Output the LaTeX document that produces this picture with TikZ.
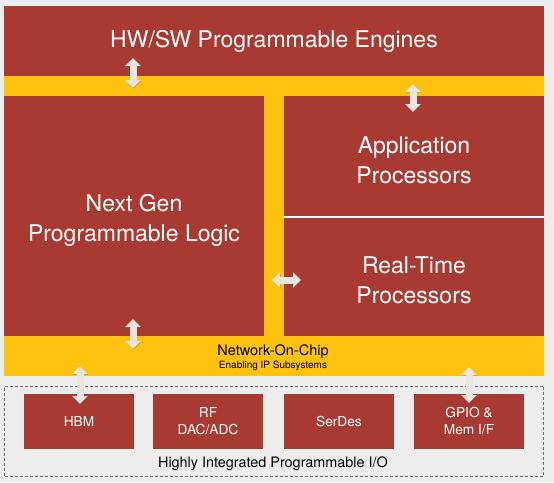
\documentclass[tikz,border=0pt]{standalone}
\usepackage{fontspec}
\setmainfont{TeX Gyre Heros}
\usetikzlibrary{arrows.meta}
\usepackage{xcolor}
\definecolor{acapred}{RGB}{168,58,50}
\definecolor{acapyellow}{RGB}{255,194,14}
\definecolor{pagegrey}{RGB}{237,237,237}
\definecolor{arrowgrey}{RGB}{233,229,223}

\begin{document}
\begin{tikzpicture}[x=1pt,y=-1pt]
    \tikzset{
        blk/.style={fill=acapred,text=white,align=center,inner sep=0pt,outer sep=0pt},
        bigtext/.style={font=\fontsize{23}{30}\selectfont},
        iobox/.style={blk,minimum width=110pt,minimum height=55pt,
            font=\fontsize{13.7}{17}\selectfont},
        bus/.style={draw=arrowgrey,line width=7pt,
            {Triangle[length=8pt,width=15pt]}-{Triangle[length=8pt,width=15pt]},
            preaction={draw=black!70,opacity=.25,transform canvas={shift={(.8pt,-.8pt)}}}},
    }
    \path[fill=pagegrey,use as bounding box] (0,0) rectangle (554,482);
    % yellow fabric behind the blocks
    \node[fill=acapyellow,inner sep=0pt,minimum width=540pt,minimum height=300pt] (fabric) at (274,226) {};
    \node[blk,bigtext,minimum width=540pt,minimum height=70pt] (engines) at (274,41) {HW/SW Programmable Engines};
    \node[blk,minimum width=260pt,minimum height=240pt] (pl) at (134,216) {};
    \node[bigtext,text=white,align=center] (pltext) at (134,220) {Next Gen\\Programmable Logic};
    \node[blk,minimum width=260pt,minimum height=121pt] (apu) at (414,156.5) {};
    \node[bigtext,text=white,align=center] (aputext) at (414,160) {Application\\Processors};
    \node[blk,minimum width=260pt,minimum height=119pt] (rpu) at (414,276.5) {};
    \node[bigtext,text=white,align=center] (rputext) at (414,280) {Real-Time\\Processors};
    \draw[white,line width=1.6pt] (apu.south west) -- (apu.south east);
    % network on chip
    \node[font=\fontsize{14.5}{16}\selectfont,inner sep=0pt] (noc) at (273,352) {Network-On-Chip};
    \node[font=\fontsize{10}{11}\selectfont,inner sep=0pt] (nocsub) at (273,366) {Enabling IP Subsystems};
    % I/O ring
    \node[draw=black!55,dashed,dash pattern=on 3pt off 2pt,line width=.6pt,inner sep=0pt,
        minimum width=539pt,minimum height=90pt] (ioring) at (274,431) {};
    \foreach \n/\x/\t in {hbm/79/HBM,rf/208/{RF\\DAC/ADC},serdes/339/SerDes,gpio/469/{GPIO \&\\Mem I/F}}
        \node[iobox] (\n) at (\x,421) {\t};
    \node[font=\fontsize{14.4}{16}\selectfont,inner sep=0pt] (iotext) at (273,464) {Highly Integrated Programmable I/O};
    % arrows
    \foreach \n/\xa/\ya/\xb/\yb in {
        eng/133/58/133/88, apl/413/84/413/112, rt/272/280/301/280,
        plnoc/133/319/133/349, hbmnoc/80/366/80/404, gpionoc/469/367/469/403
    }{
        \coordinate (\n-a) at (\xa,\ya);
        \coordinate (\n-b) at (\xb,\yb);
        \draw[bus] (\n-a) -- (\n-b);
    }
\end{tikzpicture}
\end{document}
